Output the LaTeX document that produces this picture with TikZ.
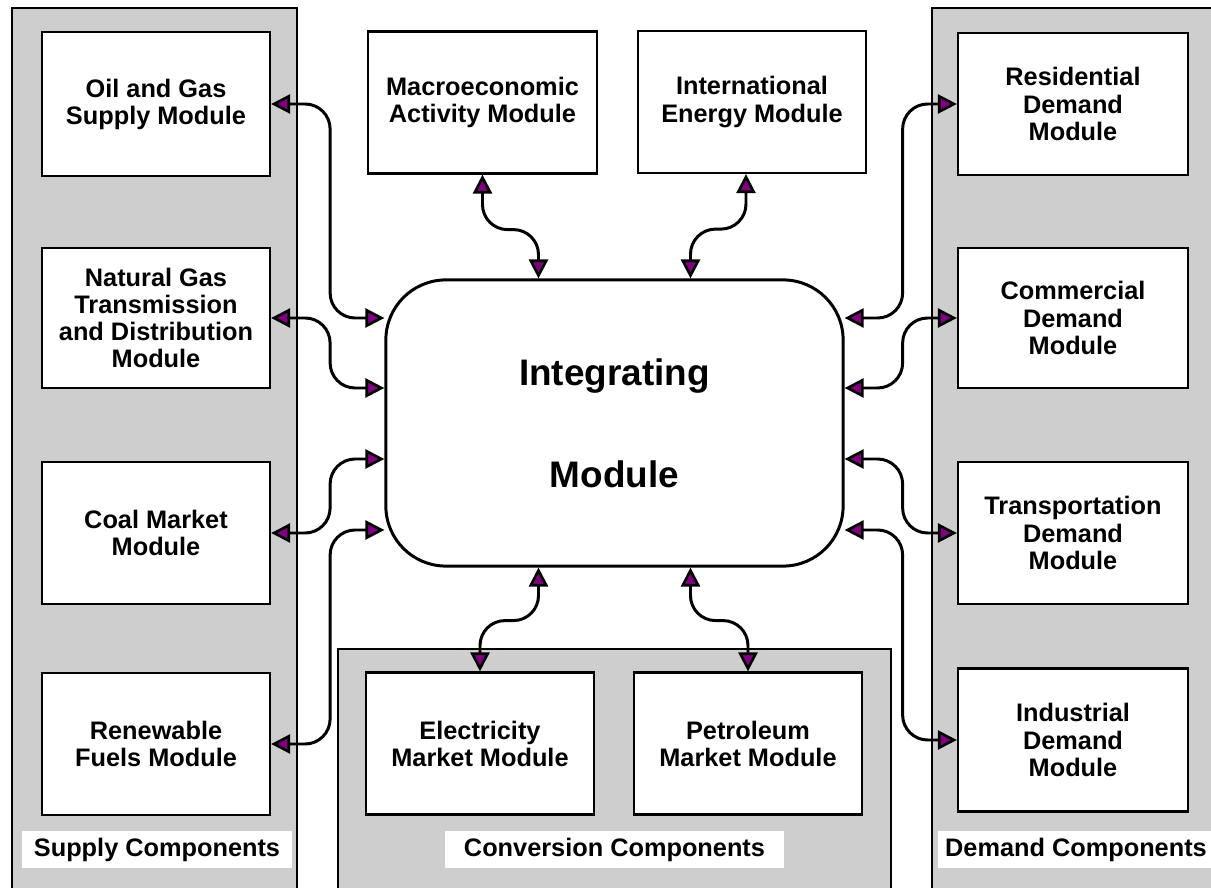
\documentclass[tikz,border=0pt]{standalone}
\usepackage{fontspec}
\setmainfont{Liberation Sans}
\usetikzlibrary{arrows.meta, calc}
\definecolor{panelgray}{RGB}{206,206,206}
\definecolor{tippurple}{RGB}{128,0,128}

\begin{document}
\begin{tikzpicture}[
    x=0.01cm, y=-0.01cm,
    panel/.style={draw, line width=0.6pt, fill=panelgray},
    module/.style={rectangle, draw, line width=0.6pt, fill=white, minimum width=2.28cm, minimum height=1.42cm, align=center, inner sep=0pt, font=\fontsize{7.2}{7.7}\selectfont\bfseries},
    integbox/.style={rectangle, rounded corners=0.6cm, draw, line width=0.85pt, fill=white, minimum width=4.57cm, minimum height=2.86cm, align=center, font=\fontsize{10.5}{29}\selectfont\bfseries},
    comptext/.style={fill=white, minimum height=0.37cm, inner sep=0pt, font=\fontsize{7.2}{7.7}\selectfont\bfseries},
    link/.style={{Triangle[length=1.9mm, width=1.9mm, line width=0.75pt, fill=tippurple]}-{Triangle[length=1.9mm, width=1.9mm, line width=0.75pt, fill=tippurple]}, line width=0.85pt, rounded corners=0.25cm}
]
    \useasboundingbox (0,0) rectangle (1211,888);
    \clip (0,0) rectangle (1211,888);

    % Component panels
    \draw [panel] (12,8) rectangle (297,900);
    \draw [panel] (338,649) rectangle (891,900);
    \draw [panel] (932,8) rectangle (1230,900);

    % Panel captions
    \node [comptext, minimum width=2.70cm] (supplylbl) at (157,849.5) {Supply Components};
    \node [comptext, minimum width=3.39cm] (convlbl) at (614.5,849.5) {Conversion Components};
    \node [comptext, minimum width=2.76cm] (demandlbl) at (1076,849.5) {Demand Components};

    % Supply modules
    \node [module, minimum height=1.44cm] (oilgas) at (156,104) {Oil and Gas\\Supply Module};
    \node [module, minimum height=1.40cm] (natgas) at (156,318) {Natural Gas\\Transmission\\and Distribution\\Module};
    \node [module] (coal) at (156,533) {Coal Market\\Module};
    \node [module] (renew) at (156,744) {Renewable\\Fuels Module};

    % Top modules
    \node [module, minimum width=2.29cm] (macro) at (482.5,102.5) {Macroeconomic\\Activity Module};
    \node [module] (intl) at (752,102) {International\\Energy Module};

    % Demand modules
    \node [module, minimum width=2.30cm] (resid) at (1073,104) {Residential\\Demand\\Module};
    \node [module, minimum width=2.30cm, minimum height=1.40cm] (comm) at (1073,318) {Commercial\\Demand\\Module};
    \node [module, minimum width=2.30cm] (trans) at (1073,533) {Transportation\\Demand\\Module};
    \node [module, minimum width=2.30cm, minimum height=1.43cm] (indus) at (1073,740) {Industrial\\Demand\\Module};

    % Conversion modules
    \node [module] (elec) at (480,743.5) {Electricity\\Market Module};
    \node [module] (petro) at (748,743.5) {Petroleum\\Market Module};

    % Integrating module
    \node [integbox] (integ) at (614.5,423) {Integrating\\Module};

    % Attachment points on the integrating module
    \coordinate (iw1) at ($(integ.west)+(0,-105)$);
    \coordinate (iw2) at ($(integ.west)+(0,-35)$);
    \coordinate (iw3) at ($(integ.west)+(0,36)$);
    \coordinate (iw4) at ($(integ.west)+(0,107)$);
    \coordinate (ie1) at ($(integ.east)+(0,-105)$);
    \coordinate (ie2) at ($(integ.east)+(0,-35)$);
    \coordinate (ie3) at ($(integ.east)+(0,36)$);
    \coordinate (ie4) at ($(integ.east)+(0,107)$);
    \coordinate (it1) at ($(integ.north)+(-76,0)$);
    \coordinate (it2) at ($(integ.north)+(76,0)$);
    \coordinate (ib1) at ($(integ.south)+(-76,0)$);
    \coordinate (ib2) at ($(integ.south)+(76,0)$);

    % Supply links
    \draw [link] (oilgas.east) -- ++(59,0) |- (iw1);
    \draw [link] (natgas.east) -- ++(59,0) |- (iw2);
    \draw [link] (coal.east) -- ++(59,0) |- (iw3);
    \draw [link] (renew.east) -- ++(59,0) |- (iw4);

    % Demand links
    \draw [link] (ie1) -- ++(58,0) |- (resid.west);
    \draw [link] (ie2) -- ++(58,0) |- (comm.west);
    \draw [link] (ie3) -- ++(58,0) |- (trans.west);
    \draw [link] (ie4) -- ++(58,0) |- (indus.west);

    % Top links
    \draw [link] (macro.south) -- ++(0,55) -| (it1);
    \draw [link] ($(intl.south)+(-6,0)$) -- ++(0,55) -| (it2);

    % Conversion links
    \draw [link] (ib1) -- ++(0,53) -| (elec.north);
    \draw [link] (ib2) -- ++(0,53) -| (petro.north);

\end{tikzpicture}
\end{document}
